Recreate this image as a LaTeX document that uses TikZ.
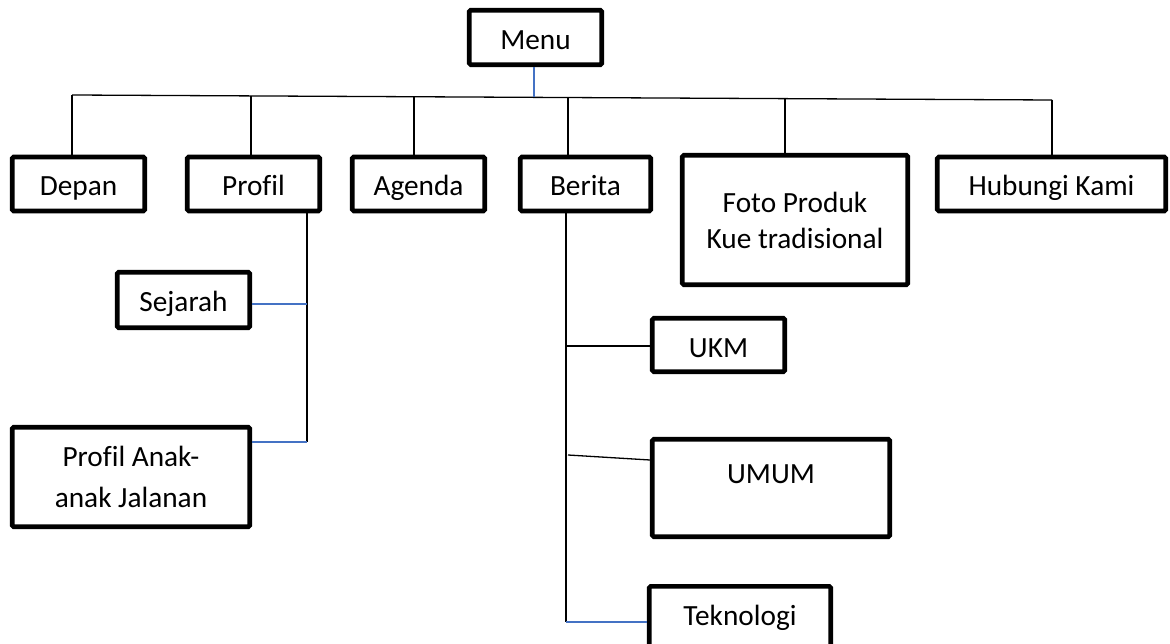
\documentclass[tikz,border=0pt]{standalone}
\usepackage{fontspec}
\setmainfont[Ligatures={NoCommon}]{Carlito}
\usetikzlibrary{calc}
\definecolor{linkblue}{RGB}{68,114,196}
\begin{document}
\begin{tikzpicture}[x=1pt,y=-1pt,
  box/.style={draw=black, line width=4.6pt, rounded corners=1.5pt, fill=white, inner sep=0pt,
    font=\fontsize{29.3}{36}\selectfont, align=center},
  sbox/.style={box, text height=27pt, text depth=3pt},
  conn/.style={draw=black, line width=1.3pt},
  bconn/.style={draw=linkblue, line width=1.3pt}]
\useasboundingbox (0,0) rectangle (1170,644);
\begin{scope}
\clip (0,0) rectangle (1170,644);
% connector points
\coordinate (hl) at (72,95);
\coordinate (hr) at (1052,100);
\coordinate (jp) at ($(hl)!0.1827!(hr)$);
\coordinate (ja) at ($(hl)!0.3490!(hr)$);
\coordinate (jm) at ($(hl)!0.4714!(hr)$);
\coordinate (jb) at ($(hl)!0.5061!(hr)$);
\coordinate (jf) at ($(hl)!0.7276!(hr)$);
\coordinate (pv) at (307,442);
\coordinate (bv) at (566,622);
\coordinate (bu) at (566,346);
\coordinate (bm) at (568,455);
\coordinate (bmr) at (650,460);
% boxes
\node[sbox, minimum width=132.5pt, minimum height=54.5pt] (menu) at (535.5,37.5) {Menu};
\node[sbox, minimum width=132.5pt, minimum height=54pt] (depan) at (78.5,184) {Depan};
\node[sbox, minimum width=132.5pt, minimum height=54pt] (profil) at (253.5,184) {Profil};
\node[sbox, minimum width=132.5pt, minimum height=54pt] (agenda) at (418.5,184) {Agenda};
\node[sbox, minimum width=130.5pt, minimum height=54pt] (berita) at (585.5,184) {Berita};
\node[box, minimum width=225.5pt, minimum height=129.5pt] (foto) at (795,220) {Foto Produk\\Kue tradisional};
\node[sbox, minimum width=228.5pt, minimum height=54pt] (hubungi) at (1051.5,184) {Hubungi Kami};
\node[sbox, minimum width=132.5pt, minimum height=55.5pt] (sejarah) at (183.5,300) {Sejarah};
\node[box, minimum width=237.5pt, minimum height=99.5pt, font=\fontsize{29.3}{41}\selectfont] (anak) at (131,477) {Profil Anak-\\anak Jalanan};
\node[sbox, minimum width=132.5pt, minimum height=53.5pt] (ukm) at (718.5,345) {UKM};
\node[box, minimum width=237.5pt, minimum height=97.5pt, text height=40pt, text depth=50pt] (umum) at (771,488) {UMUM};
\node[box, minimum width=181.5pt, minimum height=80pt, text height=38pt, text depth=40.6pt] (tek) at (740,626.3) {Teknologi};
% connectors
\draw[conn] (hl) -- (hr);
\draw[bconn] (menu.south -| jm) -- (jm);
\draw[conn] (hl) -- (hl |- depan.north);
\draw[conn] (jp) -- (jp |- profil.north);
\draw[conn] (ja) -- (ja |- agenda.north);
\draw[conn] (jb) -- (jb |- berita.north);
\draw[conn] (jf) -- (jf |- foto.north);
\draw[conn] (hr) -- (hr |- hubungi.north);
\draw[conn] (pv |- profil.south) -- (pv);
\draw[bconn] (sejarah.east) ++(0,4) -- (pv |- 0,304);
\draw[bconn] (pv) -- (pv -| anak.east);
\draw[conn] (bv |- berita.south) -- (bv);
\draw[conn] (bu) -- (bu -| ukm.west);
\draw[conn] (bm) -- (bmr);
\draw[bconn] (bv) -- (bv -| tek.west);
\end{scope}
\end{tikzpicture}
\end{document}
